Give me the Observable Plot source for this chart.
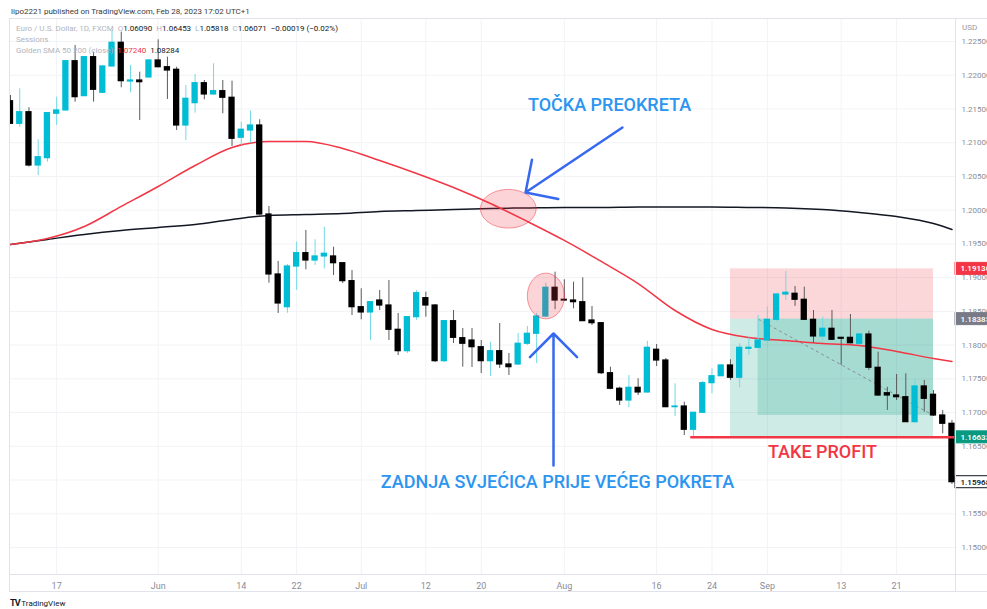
<!DOCTYPE html>
<html><head><meta charset="utf-8">
<script src="https://cdn.jsdelivr.net/npm/d3@7"></script>
<script src="https://cdn.jsdelivr.net/npm/@observablehq/plot@0.6"></script>
<style>
body{margin:0;background:#fff;font-family:Roboto,"Noto Sans",sans-serif;}
#wrap{position:relative;width:987px;height:609px;overflow:hidden;background:#fff;}
#chart{position:absolute;left:0;top:0;}
.ov{position:absolute;white-space:nowrap;line-height:10px;}
.leg{font-size:8px;color:#b2b5be;left:16px;}
.v{color:#131722;}
</style></head><body>
<div id="wrap">
<div id="chart"></div>
<div class="ov" style="left:11px;top:7px;font-size:8px;color:#3a3a3a">lipo2221 published on TradingView.com, Feb 28, 2023 17:02 UTC+1</div>
<div class="ov leg" style="top:24px">Euro / U.S. Dollar, 1D, FXCM&nbsp; O<span class="v">1.06090</span>&nbsp; H<span class="v">1.06453</span>&nbsp; L<span class="v">1.05818</span>&nbsp; C<span class="v">1.06071</span>&nbsp; <span class="v">−0.00019 (−0.02%)</span></div>
<div class="ov leg" style="top:35px">Sessions</div>
<div class="ov leg" style="top:46px">Golden SMA 50 200 (close)&nbsp; <span style="color:#f23645">1.07240</span>&nbsp; <span class="v">1.08284</span></div>
<div class="ov" style="left:962px;top:23px;font-size:8px;color:#9598a1">USD</div>
<div class="ov" style="left:9px;top:18px;width:990px;height:574px;border:1px solid #e0e3eb;box-sizing:border-box"></div>
<div class="ov" style="left:955px;top:18px;width:1px;height:574px;background:#e0e3eb"></div>
<div class="ov" style="left:9px;top:574px;width:990px;height:1px;background:#e0e3eb"></div>
<div class="ov" style="left:10px;top:598px;font-size:8px;color:#131722"><b style="font-size:9px;letter-spacing:-1px">TV</b> TradingView</div>
</div>
<script>
// ---- data (EUR/USD daily) ----
const startDate = "2021-05-10", endDate = "2021-09-30";
const open = [1.21615,1.21280,1.21452,1.20662,1.20771,1.21429,1.21478,1.22208,1.21690,1.22268,1.21740,1.22130,1.22481,1.21907,1.21922,1.21967,1.22219,1.22119,1.22081,1.21255,1.21586,1.21882,1.21715,1.21764,1.21666,1.21073,1.21181,1.21255,1.19936,1.19047,1.18562,1.19165,1.19363,1.19254,1.19314,1.19314,1.19214,1.18948,1.18562,1.18484,1.18661,1.18587,1.18227,1.17910,1.18414,1.18696,1.18587,1.17762,1.18355,1.18103,1.18068,1.17969,1.17762,1.17910,1.17713,1.17713,1.18020,1.18168,1.18424,1.18850,1.18672,1.18661,1.18636,1.18365,1.18325,1.17584,1.17353,1.17179,1.17367,1.17298,1.17931,1.17772,1.17080,1.17090,1.16745,1.16997,1.17436,1.17539,1.17698,1.17516,1.17945,1.17960,1.18068,1.18375,1.18750,1.18761,1.18672,1.18375,1.18128,1.18242,1.18108,1.18108,1.18020,1.18157,1.17664,1.17287,1.17253,1.17228,1.16858,1.17387,1.17264,1.16957,1.16834];
const high = [1.21700,1.21799,1.21518,1.21043,1.21448,1.21675,1.22219,1.22441,1.22278,1.22342,1.22140,1.22663,1.22638,1.22145,1.22045,1.22233,1.22525,1.22268,1.22119,1.21848,1.22011,1.21922,1.22170,1.21922,1.21912,1.21304,1.21467,1.21340,1.20055,1.19240,1.19195,1.19526,1.19699,1.19561,1.19748,1.19451,1.19225,1.19106,1.18835,1.18647,1.18810,1.18958,1.18469,1.18424,1.18810,1.18784,1.18602,1.18365,1.18513,1.18246,1.18246,1.18068,1.18043,1.18320,1.17876,1.18172,1.18276,1.18469,1.18918,1.19081,1.18968,1.18933,1.18998,1.18573,1.18335,1.17673,1.17376,1.17550,1.17501,1.18058,1.18009,1.17802,1.17427,1.17154,1.17001,1.17461,1.17649,1.17713,1.17782,1.18020,1.18108,1.18439,1.18562,1.18765,1.19091,1.18869,1.18859,1.18513,1.18414,1.18513,1.18113,1.18454,1.18172,1.18206,1.17895,1.17376,1.17565,1.17575,1.17501,1.17476,1.17327,1.17031,1.16883];
const low = [1.21270,1.21230,1.20640,1.20514,1.20711,1.21255,1.21470,1.21601,1.21685,1.21601,1.21730,1.22120,1.21814,1.21740,1.21329,1.21960,1.22110,1.21641,1.21181,1.21033,1.21438,1.21636,1.21710,1.21429,1.20944,1.20959,1.20993,1.19920,1.18918,1.18469,1.18473,1.18810,1.19116,1.19180,1.19131,1.19032,1.18913,1.18439,1.18375,1.18068,1.18513,1.18068,1.17846,1.17876,1.18365,1.18414,1.17742,1.17742,1.18024,1.17673,1.17668,1.17579,1.17535,1.17654,1.17550,1.17698,1.17994,1.17728,1.18409,1.18524,1.18647,1.18538,1.18350,1.18291,1.17565,1.17338,1.17105,1.17071,1.17253,1.17290,1.17683,1.17075,1.16942,1.16660,1.16646,1.16986,1.17279,1.17535,1.17476,1.17367,1.17846,1.17950,1.17945,1.18350,1.18661,1.18573,1.18365,1.18028,1.18068,1.18068,1.17698,1.18020,1.18009,1.17624,1.17239,1.17031,1.17179,1.16853,1.16850,1.17006,1.16942,1.16686,1.15934];
const close = [1.21280,1.21452,1.20662,1.20785,1.21438,1.21478,1.22208,1.21675,1.22268,1.21784,1.22130,1.22481,1.21912,1.21922,1.21897,1.22219,1.22119,1.22070,1.21255,1.21651,1.21882,1.21715,1.21764,1.21666,1.21058,1.21192,1.21255,1.19936,1.19047,1.18617,1.19165,1.19363,1.19254,1.19314,1.19354,1.19214,1.18948,1.18562,1.18484,1.18636,1.18587,1.18227,1.17910,1.18414,1.18770,1.18587,1.17762,1.18355,1.18108,1.18020,1.17969,1.17762,1.17910,1.17713,1.17673,1.18020,1.18168,1.18424,1.18850,1.18661,1.18661,1.18636,1.18355,1.18325,1.17584,1.17353,1.17179,1.17367,1.17298,1.17960,1.17772,1.17080,1.17090,1.16745,1.16997,1.17436,1.17539,1.17698,1.17516,1.17960,1.17960,1.18068,1.18375,1.18750,1.18776,1.18672,1.18375,1.18128,1.18242,1.18079,1.18094,1.18028,1.18157,1.17664,1.17253,1.17253,1.17228,1.16858,1.17387,1.17204,1.16957,1.16834,1.15968];

// moving averages read at every 4th bar
const smaIdx = [0,4,8,12,16,20,24,28,32,36,40,44,48,52,56,60,64,68,72,76,80,84,88,92,96,100,102];
const sma50  = [1.19491,1.19580,1.19758,1.20055,1.20351,1.20662,1.20929,1.21018,1.21018,1.20914,1.20736,1.20544,1.20336,1.20099,1.19832,1.19551,1.19240,1.18913,1.18513,1.18232,1.18113,1.18068,1.18024,1.17994,1.17906,1.17802,1.17757];
const sma200 = [1.19491,1.19566,1.19640,1.19699,1.19743,1.19788,1.19862,1.19921,1.19936,1.19951,1.19981,1.19995,1.20010,1.20025,1.20033,1.20040,1.20040,1.20047,1.20047,1.20047,1.20040,1.20033,1.20010,1.19966,1.19906,1.19803,1.19714];

// time axis labels
const tickDates  = ["2021-05-17","2021-06-01","2021-06-14","2021-06-22","2021-07-01","2021-07-12","2021-07-20","2021-08-02","2021-08-16","2021-08-24","2021-09-01","2021-09-13","2021-09-21"];
const tickLabels = ["17","Jun","14","22","Jul","12","20","Aug","16","24","Sep","13","21"];
const priceTicks = [1.150,1.155,1.160,1.165,1.170,1.175,1.180,1.185,1.190,1.195,1.200,1.205,1.210,1.215,1.220,1.225];

// trade (position tool)
const stopPrice = 1.19130, entryPrice = 1.18385, targetPrice = 1.16633;
const posStartDate = "2021-08-26", posEntryDate = "2021-08-31", posEndDate = "2021-09-27";

// ---- layout ----
const W = 987, H = 609, mL = 10, mR = 32, mT = 19, mB = 35;
const barPx = 9.23;
const xMax = (W - mL - mR) / barPx;
const yDom = [1.14600, 1.22826];
const pricePerPx = (yDom[1] - yDom[0]) / (H - mT - mB);

const dates = d3.utcDays(new Date(startDate), new Date(endDate)).filter(d => d.getUTCDay() % 6 !== 0);
const idxOf = s => dates.findIndex(d => +d === +new Date(s));
const candles = open.map((o, i) => ({i, o, h: high[i], l: low[i], c: close[i], up: close[i] >= o}));
const ma = (vals) => smaIdx.map((i, k) => ({i, v: vals[k]}));
const tickIdx = tickDates.map(idxOf);
const labelOf = new Map(tickIdx.map((t, k) => [t, tickLabels[k]]));

const pS = idxOf(posStartDate), pE = idxOf(posEntryDate), pX = idxOf(posEndDate);
const lastClose = close[pX];
const lastPrice = close[close.length - 1];

function ellipse(cx, cy, rxPx, ryPx) {
  return d3.range(0, 73).map(k => {
    const t = k / 72 * 2 * Math.PI;
    return {x: cx + Math.cos(t) * rxPx / barPx, y: cy + Math.sin(t) * ryPx * pricePerPx};
  });
}
const blue = "#2b95f0", arrowBlue = "#3768f0", red = "#f23645";
const font = "Roboto, 'Noto Sans', sans-serif";
const narrow = "'Liberation Sans Narrow', 'Roboto', sans-serif";

const tags = [
  {p: stopPrice, bg: red, fg: "#fff", border: red},
  {p: entryPrice, bg: "#787b86", fg: "#fff", border: "#787b86"},
  {p: targetPrice, bg: "#089981", fg: "#fff", border: "#089981"},
  {p: lastPrice, bg: "#fff", fg: "#131722", border: "#131722"}
];
// axis labels fully hidden behind a price tag are not drawn
const axisTicks = priceTicks.filter(t => Math.abs(t - lastPrice) > 4 * pricePerPx);

const plot = Plot.plot({
  width: W, height: H,
  marginLeft: mL, marginRight: mR, marginTop: mT, marginBottom: mB,
  x: {type: "linear", domain: [0, xMax], axis: null},
  y: {type: "linear", domain: yDom, axis: null},
  color: {type: "identity"},
  style: {background: "transparent", fontFamily: font},
  marks: [
    Plot.ruleY(priceTicks, {stroke: "#f2f3f6", strokeWidth: 1}),
    Plot.ruleX(tickIdx, {stroke: "#f2f3f6", strokeWidth: 1}),
    // position tool
    Plot.rect([0], {x1: pS, x2: pX, y1: entryPrice, y2: stopPrice, fill: red, fillOpacity: 0.2}),
    Plot.rect([0], {x1: pS, x2: pX, y1: targetPrice, y2: entryPrice, fill: "#089981", fillOpacity: 0.2}),
    Plot.rect([0], {x1: pE, x2: pX, y1: lastClose, y2: entryPrice, fill: "#089981", fillOpacity: 0.2}),
    Plot.link([0], {x1: pE, y1: entryPrice, x2: pX, y2: lastClose, stroke: "#8a8d96", strokeDasharray: "3,3", strokeWidth: 1}),
    // moving averages
    Plot.line(ma(sma200), {x: "i", y: "v", stroke: "#131722", strokeWidth: 1.5, curve: "monotone-x", clip: true}),
    Plot.line(ma(sma50), {x: "i", y: "v", stroke: red, strokeWidth: 1.5, curve: "monotone-x", clip: true}),
    // candles
    Plot.ruleX(candles, {x: "i", y1: "l", y2: "h", stroke: d => d.up ? "#74d8e6" : "#5a5a5a", strokeWidth: 1, clip: true}),
    Plot.rect(candles, {x1: d => d.i - 0.34, x2: d => d.i + 0.34, y1: "o", y2: "c", fill: d => d.up ? "#00bcd4" : "#000000", insetTop: -0.6, insetBottom: -0.6, clip: true}),
    // take profit line
    Plot.ruleY([targetPrice], {x1: pS - 4.3, x2: xMax, stroke: red, strokeWidth: 2.5}),
    // highlight ellipses
    Plot.line(ellipse(53.93, 1.20021, 27.8, 19.3), {x: "x", y: "y", fill: red, fillOpacity: 0.22, stroke: red, strokeOpacity: 0.5, strokeWidth: 1, curve: "linear-closed"}),
    Plot.line(ellipse(58.0, 1.18728, 18.5, 22.8), {x: "x", y: "y", fill: red, fillOpacity: 0.22, stroke: red, strokeOpacity: 0.5, strokeWidth: 1, curve: "linear-closed"}),
    // arrows
    Plot.arrow([0], {x1: 66.3, y1: 1.21226, x2: 55.8, y2: 1.20262, stroke: arrowBlue, strokeWidth: 2.5, headLength: 20, headAngle: 90}),
    Plot.arrow([0], {x1: 58.83, y1: 1.16216, x2: 58.83, y2: 1.18172, stroke: arrowBlue, strokeWidth: 2.5, headLength: 20, headAngle: 90}),
    // annotation texts
    Plot.text(["TOČKA PREOKRETA"], {x: 64.9, y: 1.21552, text: d => d, fill: blue, fontSize: 18, fontWeight: 500, fontFamily: font}),
    Plot.text(["ZADNJA SVJEĆICA PRIJE VEĆEG POKRETA"], {x: 59.26, y: 1.15964, text: d => d, fill: blue, fontSize: 18, fontWeight: 500, fontFamily: font}),
    Plot.text(["TAKE PROFIT"], {x: 87.97, y: 1.16409, text: d => d, fill: red, fontSize: 18, fontWeight: 500, fontFamily: font}),
    // axes
    Plot.axisY(axisTicks, {anchor: "right", tickSize: 0, tickPadding: 6, fontSize: 8, fill: "#8a8d96", tickFormat: d3.format(".5f")}),
    Plot.axisX(tickIdx, {anchor: "bottom", tickSize: 0, tickPadding: 8, fontSize: 9, fill: "#8a8d96", fontFamily: narrow, tickFormat: d => labelOf.get(d)}),
    // price tags on the scale
    Plot.rect(tags, {x1: xMax, x2: xMax + 40 / barPx, y1: d => d.p - 6 * pricePerPx, y2: d => d.p + 6 * pricePerPx, fill: "bg", stroke: "border", strokeWidth: 1}),
    Plot.text(tags, {x: xMax, y: "p", text: d => d.p.toFixed(5), dx: 5, textAnchor: "start", fill: "fg", fontSize: 8, fontWeight: 600})
  ]
});
document.getElementById("chart").appendChild(plot);
</script>
</body></html>
